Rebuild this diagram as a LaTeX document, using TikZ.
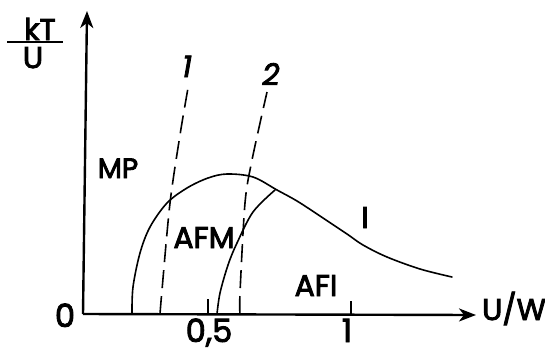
\documentclass[tikz,border=0pt]{standalone}
\usepackage{fontspec}
\setmainfont{Poppins}
\usetikzlibrary{arrows.meta}
\newcommand\medtext[1]{\special{pdf:literal direct 2 Tr 0.9 w}#1\special{pdf:literal direct 0 Tr}}
\begin{document}
\begin{tikzpicture}[x=1pt,y=-1pt,
 axis/.style={line width=2.4pt, -{Stealth[length=17pt,width=13pt,inset=5pt]}},
 curve/.style={line width=1.6pt, line cap=round},
 dashcurve/.style={line width=1.6pt, dash pattern=on 18pt off 8pt},
 tickmark/.style={line width=1.8pt},
 lbl/.style={font=\fontsize{30}{30}\selectfont, inner sep=0pt, anchor=base},
 numlbl/.style={font=\fontsize{32}{32}\selectfont, inner sep=0pt, anchor=base},
 hand/.style={font=\fontsize{30}{30}\selectfont\itshape, inner sep=0pt, anchor=base}]
\useasboundingbox (0,0) rectangle (545,354);
% axes
\coordinate (O) at (83,314);
\coordinate (xend) at (476,315);
\coordinate (yend) at (87,11);
\draw[axis] (O) -- (xend);
\draw[axis] (O) -- (yend);
% ticks
\coordinate (t5a) at (208,314); \coordinate (t5b) at (208,299);
\coordinate (t1a) at (351,314); \coordinate (t1b) at (351,301);
\draw[tickmark] (t5a) -- (t5b);
\draw[tickmark] (t1a) -- (t1b);
% main curve
\draw[curve] plot[smooth, tension=0.55] coordinates {(132,314) (133,287) (140,253) (150,227) (167,203) (187,188) (208,178) (227,174) (253,177) (277,190) (297,201) (320,216) (347,234) (363,245) (387,257) (420,269) (452,277)};
% inner curve
\draw[curve] plot[smooth, tension=0.55] coordinates {(217,314) (220,293) (228,265) (237,243) (253,212) (275,190)};
% dashed lines
\draw[dashcurve] plot[smooth] coordinates {(160,314) (162,290) (170,203) (180,135) (188,88)};
\draw[dashcurve] plot[smooth] coordinates {(240,314) (240,293) (245,203) (252,160) (267,92)};
% labels
\node[lbl] (kt) at (40,40) {\medtext{kT}};
\coordinate (fl) at (7,42); \coordinate (fr) at (63,42);
\draw[line width=2pt] (fl) -- (fr);
\node[lbl] (u) at (33,68) {\medtext{U}};
\node[lbl,font=\fontsize{28}{28}\selectfont] (mp) at (118,178) {\medtext{MP}};
\node[lbl] (afm) at (204,248) {\medtext{AFM}};
\node[lbl] (afi) at (316,296) {\medtext{AFI}};
\node[lbl] (i) at (365,228) {\medtext{I}};
\node[numlbl] (zero) at (65,327) {\medtext{0}};
\node[numlbl] (half) at (209,342) {\medtext{0,5}};
\node[numlbl] (one) at (347,342) {\medtext{1}};
\node[lbl] (uw) at (514,320) {\medtext{U/W}};
\node[hand] (l1) at (187,77) {\medtext{1}};
\node[hand] (l2) at (271,85) {\medtext{2}};
\end{tikzpicture}
\end{document}
